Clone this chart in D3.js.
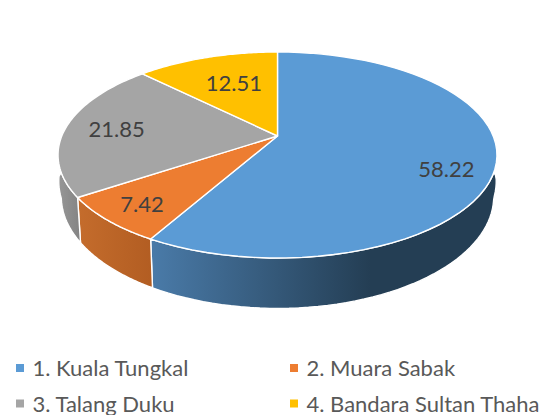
<!DOCTYPE html>
<html>
<head>
<meta charset="utf-8">
<script src="https://cdn.jsdelivr.net/npm/d3@7"></script>
<style>
  html,body{margin:0;padding:0;background:#fff;}
  svg{display:block;}
  text{font-family:Lato,"Open Sans",sans-serif;}
</style>
</head>
<body>
<div id="chart"></div>
<script>
//data
const categories = ['1. Kuala Tungkal','2. Muara Sabak','3. Talang Duku','4. Bandara Sultan Thaha'];
const values = [58.22,7.42,21.85,12.51];
const colors = ['#5b9bd5','#ed7d31','#a5a5a5','#ffc000'];

const WIDTH = 548, HEIGHT = 415;

//the tilted disc, a circle seen in perspective
const DISC = {
    cx:277.5,
    apexY:136,
    a:215.7,
    b:99.5,
    k:0.1844,
    sideY:176,       //where the apex lands on the bottom plane
    sideA:212.5,
    sideB:108,
    flare:6          //wall bulges out a bit at the far left and right
};

//label placement: fraction of the radius, and a nudge in px
const LABEL_POS = [
    {r:0.78,dy:12},
    {r:0.82,dy:0},
    {r:0.76,dy:0},
    {r:0.58,dy:-5}
];

//side wall gradients, [x1,x2,from,to]
const SIDE_FILL = [
    [150,370,'#4a7ba9','#243e54'],
    [78,153,'#c46c2c','#b25d22'],
    [58,82,'#979797','#828282']
];

function topPoint(angle,r){
    r = r === undefined ? 1 : r;
    let u = Math.sin(angle)*r;
    let v = -Math.cos(angle)*r;
    let w = 1 - DISC.k*v;
    return [DISC.cx + DISC.a*u/w, DISC.apexY + DISC.b*v/w];
}

function bottomPoint(angle){
    let u = Math.sin(angle);
    let v = -Math.cos(angle);
    let w = 1 - DISC.k*v;
    let a = DISC.sideA + DISC.flare*Math.max(0,1-Math.abs(v)/0.2);
    return [DISC.cx + a*u/w, DISC.sideY + DISC.sideB*v/w];
}

function sampleAngles(a0,a1){
    return d3.range(0,61).map(i=>a0 + (a1-a0)*i/60);
}

const svg = d3.select('#chart').append('svg')
    .attr('width',WIDTH)
    .attr('height',HEIGHT);

const line = d3.line();
const arcs = d3.pie().sort(null)(values);

//side walls go first, the top face covers what is behind
const visibleFrom = Math.PI*0.45;
const visibleTo = Math.PI*1.55;
const defs = svg.append('defs');

SIDE_FILL.forEach((s,i)=>{
    let grad = defs.append('linearGradient')
        .attr('id','side'+i)
        .attr('gradientUnits','userSpaceOnUse')
        .attr('x1',s[0]).attr('x2',s[1])
        .attr('y1',0).attr('y2',0);
    grad.append('stop').attr('offset',0).attr('stop-color',s[2]);
    grad.append('stop').attr('offset',1).attr('stop-color',s[3]);
});

arcs.forEach((d,i)=>{
    let a0 = Math.max(d.startAngle,visibleFrom);
    let a1 = Math.min(d.endAngle,visibleTo);
    if(a1 <= a0) return;
    let angles = sampleAngles(a0,a1);
    let pts = angles.map(a=>topPoint(a)).concat(angles.slice().reverse().map(bottomPoint));
    svg.append('path')
        .attr('class','side')
        .attr('d',line(pts)+'Z')
        .attr('fill','url(#side'+i+')')
        .attr('stroke','#fff')
        .attr('stroke-width',1.4)
        .attr('stroke-linejoin','round');
});

//top face
arcs.forEach((d,i)=>{
    let pts = [[DISC.cx,DISC.apexY]].concat(sampleAngles(d.startAngle,d.endAngle).map(a=>topPoint(a)));
    svg.append('path')
        .attr('class','slice')
        .attr('d',line(pts)+'Z')
        .attr('fill',colors[i])
        .attr('stroke','#fff')
        .attr('stroke-width',1.4)
        .attr('stroke-linejoin','round');
});

//value labels
arcs.forEach((d,i)=>{
    let p = topPoint((d.startAngle+d.endAngle)/2,LABEL_POS[i].r);
    svg.append('text')
        .attr('x',p[0])
        .attr('y',p[1]+LABEL_POS[i].dy)
        .attr('text-anchor','middle')
        .attr('dominant-baseline','central')
        .attr('font-size',22)
        .attr('fill','#404040')
        .text(values[i]);
});

//legend
const legendX = d3.scalePoint().domain([0,1]).range([16,290]);
const legendY = d3.scalePoint().domain([0,1]).range([368,403.5]);

categories.forEach((c,i)=>{
    let col = i%2, row = Math.floor(i/2);
    let g = svg.append('g')
        .attr('transform','translate('+legendX(col)+','+legendY(row)+')');
    g.append('rect')
        .attr('x',0).attr('y',-4)
        .attr('width',8).attr('height',8)
        .attr('fill',colors[i]);
    g.append('text')
        .attr('x',16.5)
        .attr('y',8)
        .attr('font-size',22)
        .attr('fill','#595959')
        .text(c);
});
</script>
</body>
</html>
